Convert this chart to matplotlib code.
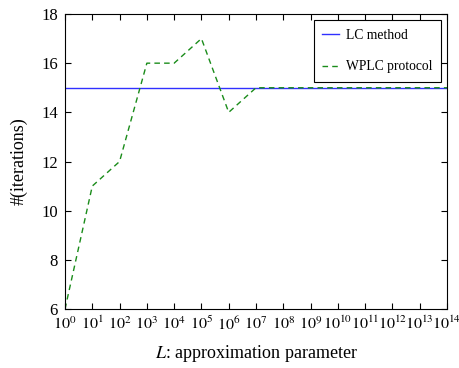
import numpy as np
import matplotlib
matplotlib.use('Agg')
import matplotlib.pyplot as plt

plt.rcParams['font.family'] = 'Liberation Serif'
plt.rcParams['mathtext.fontset'] = 'stix'

# datos
exponents = list(range(0, 15))
L_values = [10.0 ** e for e in exponents]
lc_iters = [15] * 15
wplc_iters = [6, 11, 12, 16, 16, 17, 14, 15, 15, 15, 15, 15, 15, 15, 15]
tick_labels = [r'$10^{%d}$' % e for e in exponents]

fig = plt.figure(figsize=(4.59, 3.68), dpi=100)
ax = fig.add_axes([65 / 459, 1 - 309 / 368, (447 - 65) / 459, (309 - 14) / 368])

ax.plot(L_values, lc_iters, color='#3030ff', lw=1.0, label='LC method')
ax.plot(L_values, wplc_iters, color='#1a8c1a', lw=1.0, ls=(0, (4, 3)), label='WPLC protocol')

ax.set_xscale('log')
ax.set_xlim(1, 1e14)
ax.set_ylim(6, 18)
ax.set_xticks(L_values)
ax.set_xticklabels(tick_labels)
ax.minorticks_off()
ax.set_yticks([6, 8, 10, 12, 14, 16, 18])
ax.tick_params(direction='in', top=True, right=True, labelsize=12, length=4, pad=5)
ax.tick_params(axis='x', labelsize=11.5)

ax.set_xlabel(r'$L$: approximation parameter', fontsize=13, labelpad=7)
ax.set_ylabel('#(iterations)', fontsize=13, labelpad=10)

leg = ax.legend(loc='upper right', fontsize=9.8, fancybox=False, edgecolor='black',
                framealpha=1, labelspacing=1.35, handlelength=1.25, handletextpad=0.45,
                borderpad=0.65, borderaxespad=0.45)
leg.get_frame().set_linewidth(0.8)

fig.savefig('out.png', dpi=100)
